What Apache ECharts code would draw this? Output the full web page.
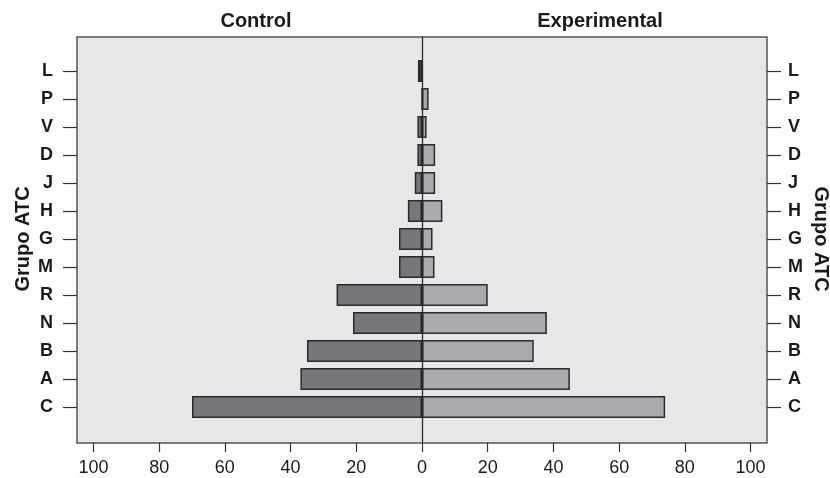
<!DOCTYPE html>
<html>
<head>
<meta charset="utf-8">
<script src="https://cdn.jsdelivr.net/npm/echarts@6/dist/echarts.min.js"></script>
<style>
  html, body { margin: 0; padding: 0; background: #fff; }
  #chart { width: 830px; height: 478px; }
</style>
</head>
<body>
<div id="chart"></div>
<script>
// categorías de arriba a abajo
const categories = ['L', 'P', 'V', 'D', 'J', 'H', 'G', 'M', 'R', 'N', 'B', 'A', 'C'];
const controlValues = [1, 0, 1.4, 1.4, 2.2, 4.3, 7, 7, 26, 21, 35, 37, 70];
const experimentalValues = [0, 2, 1.4, 4, 4, 6.2, 3.2, 3.8, 20, 38, 34, 45, 74];
const tickValues = [-100, -80, -60, -40, -20, 0, 20, 40, 60, 80, 100];
const panelTitles = ['Control', 'Experimental'];
const axisTitle = 'Grupo ATC';

const FONT = "'Liberation Sans', Arial, sans-serif";
const TEXT = '#1a1a1a';
const BORDER = '#2a2a2a';

const chart = echarts.init(document.getElementById('chart'));

const option = {
  backgroundColor: '#fff',
  animation: false,
  title: [
    {
      text: panelTitles[0], left: 251, top: 6, textAlign: 'center',
      textStyle: { fontFamily: FONT, fontSize: 20, fontWeight: 'bold', color: TEXT }
    },
    {
      text: panelTitles[1], left: 595, top: 6, textAlign: 'center',
      textStyle: { fontFamily: FONT, fontSize: 20, fontWeight: 'bold', color: TEXT }
    }
  ],
  grid: [
    // caja con fondo gris
    {
      left: 77, right: 63, top: 37, bottom: 35, outerBoundsMode: 'none',
      show: true, backgroundColor: '#e6e7e9',
      borderColor: '#555', borderWidth: 1.5
    },
    // zona de barras
    { left: 77, right: 63, top: 57, bottom: 57, outerBoundsMode: 'none' }
  ],
  xAxis: [
    {
      gridIndex: 0, type: 'value', min: -105, max: 105,
      axisLine: { show: false },
      splitLine: { show: false },
      axisTick: {
        show: true, length: 9, customValues: tickValues,
        lineStyle: { color: '#333', width: 1.2 }
      },
      axisLabel: {
        customValues: tickValues, margin: 16,
        fontFamily: FONT, fontSize: 18, color: TEXT,
        formatter: (v) => String(Math.abs(v))
      }
    },
    {
      gridIndex: 1, type: 'value', min: -105, max: 105, show: false
    }
  ],
  yAxis: [
    // línea del cero
    {
      gridIndex: 0, type: 'value', min: 0, max: 1, z: 5,
      axisLine: { show: true, onZero: true, lineStyle: { color: BORDER, width: 1.3 } },
      axisTick: { show: false }, axisLabel: { show: false }, splitLine: { show: false }
    },
    {
      gridIndex: 1, type: 'category', data: categories, inverse: true, position: 'left',
      axisLine: { show: false, onZero: false },
      axisTick: { show: true, alignWithLabel: true, length: 14, lineStyle: { color: '#333', width: 1.2 } },
      axisLabel: { margin: 24, fontFamily: FONT, fontSize: 18, fontWeight: 'bold', color: TEXT },
      name: axisTitle, nameLocation: 'middle', nameGap: 44, nameRotate: 90, nameMoveOverlap: false,
      nameTextStyle: { fontFamily: FONT, fontSize: 20, fontWeight: 'bold', color: TEXT }
    },
    {
      gridIndex: 1, type: 'category', data: categories, inverse: true, position: 'right',
      axisLine: { show: false, onZero: false },
      axisTick: { show: true, alignWithLabel: true, length: 14, lineStyle: { color: '#333', width: 1.2 } },
      axisLabel: { margin: 21, fontFamily: FONT, fontSize: 18, fontWeight: 'bold', color: TEXT },
      name: axisTitle, nameLocation: 'middle', nameGap: 44, nameRotate: -90, nameMoveOverlap: false,
      nameTextStyle: { fontFamily: FONT, fontSize: 20, fontWeight: 'bold', color: TEXT }
    }
  ],
  series: [
    {
      name: panelTitles[0], type: 'bar', xAxisIndex: 1, yAxisIndex: 1,
      stack: 'total', barWidth: 22,
      data: controlValues.map((v) => -v),
      itemStyle: { color: '#76777a', borderColor: BORDER, borderWidth: 1.5 }
    },
    {
      name: panelTitles[1], type: 'bar', xAxisIndex: 1, yAxisIndex: 1,
      stack: 'total', barWidth: 22,
      data: experimentalValues,
      itemStyle: { color: '#a8a9ac', borderColor: BORDER, borderWidth: 1.5 }
    }
  ]
};

chart.setOption(option);
</script>
</body>
</html>
